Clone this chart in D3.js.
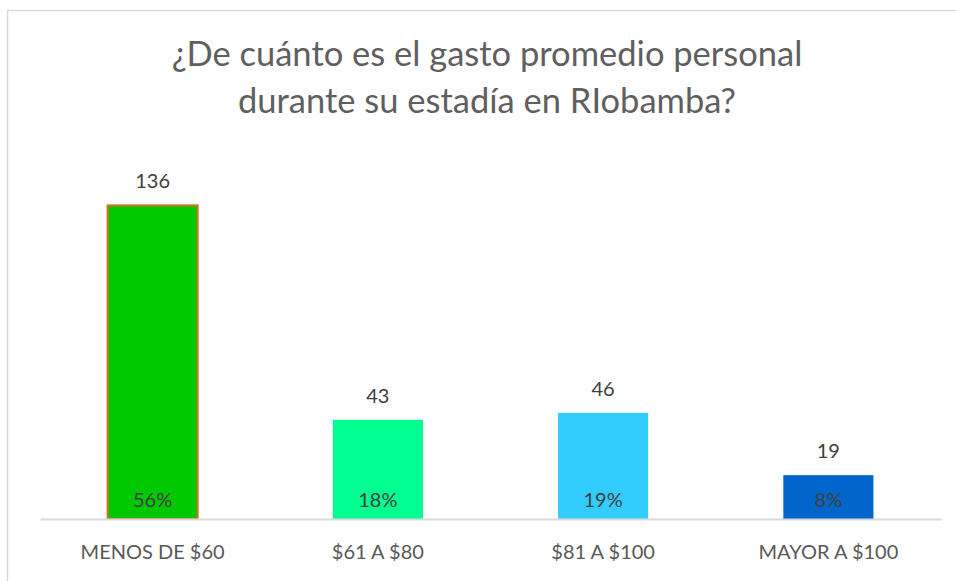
<!DOCTYPE html>
<html>
<head>
<meta charset="utf-8">
<script src="https://cdn.jsdelivr.net/npm/d3@7"></script>
<style>
  body { margin: 0; background: #fff; }
  text { font-family: Lato, "Open Sans", sans-serif; }
</style>
</head>
<body>
<div id="chart"></div>
<script>
var categories = ["MENOS DE $60", "$61 A $80", "$81 A $100", "MAYOR A $100"];
var counts = [136, 43, 46, 19];
var percents = ["56%", "18%", "19%", "8%"];
var barColors = ["#00c800", "#00ff90", "#33ccff", "#0066cc"];
var titleLines = ["¿De cuánto es el gasto promedio personal", "durante su estadía en RIobamba?"];

var W = 956, H = 581;
var margin = {top: 150, right: 15, bottom: 62, left: 40};
var width = W - margin.left - margin.right,
    height = H - margin.top - margin.bottom;

var svg = d3.select("#chart").append("svg")
    .attr("width", W)
    .attr("height", H);

// chart frame
svg.append("rect")
    .attr("x", 7.5).attr("y", 10.5)
    .attr("width", W).attr("height", H)
    .attr("fill", "none")
    .attr("stroke", "#d9d9d9")
    .attr("stroke-width", 1.5);

svg.append("text")
    .attr("x", 487)
    .attr("text-anchor", "middle")
    .style("font-size", "34.5px")
    .style("fill", "#5f5f5f")
  .selectAll("tspan")
  .data(titleLines)
  .enter().append("tspan")
    .attr("x", 487)
    .attr("y", (d, i) => 66 + i * 47)
    .text(d => d);

var g = svg.append("g")
    .attr("transform", "translate(" + margin.left + "," + margin.top + ")");

var x = d3.scaleBand()
    .domain(categories)
    .range([0, width])
    .paddingInner(0.6)
    .paddingOuter(0.3);

var y = d3.scaleLinear()
    .domain([0, 160])
    .range([height, 0]);

g.selectAll(".bar")
    .data(counts)
  .enter().append("rect")
    .attr("class", "bar")
    .attr("x", (d, i) => x(categories[i]))
    .attr("y", d => y(d))
    .attr("width", x.bandwidth())
    .attr("height", d => height - y(d))
    .attr("fill", (d, i) => barColors[i])
    .attr("stroke", (d, i) => i === 0 ? "#d9711c" : "none")
    .attr("stroke-width", 2);

var xAxis = d3.axisBottom(x).tickSize(0).tickPadding(26);
var ax = g.append("g")
    .attr("transform", "translate(0," + height + ")")
    .call(xAxis);
ax.select(".domain").attr("stroke", "#d9d9d9").attr("stroke-width", 2);
ax.selectAll("text")
    .style("font-family", "Lato, 'Open Sans', sans-serif")
    .style("font-size", "20px")
    .style("fill", "#595959");

g.selectAll(".val")
    .data(counts)
  .enter().append("text")
    .attr("x", (d, i) => x(categories[i]) + x.bandwidth() / 2)
    .attr("y", d => y(d) - 17)
    .attr("text-anchor", "middle")
    .style("font-size", "20px")
    .style("fill", "#404040")
    .text(d => d);

g.selectAll(".pct")
    .data(percents)
  .enter().append("text")
    .attr("x", (d, i) => x(categories[i]) + x.bandwidth() / 2)
    .attr("y", height - 12)
    .attr("text-anchor", "middle")
    .style("font-size", "20px")
    .style("fill", "#404040")
    .text(d => d);
</script>
</body>
</html>
